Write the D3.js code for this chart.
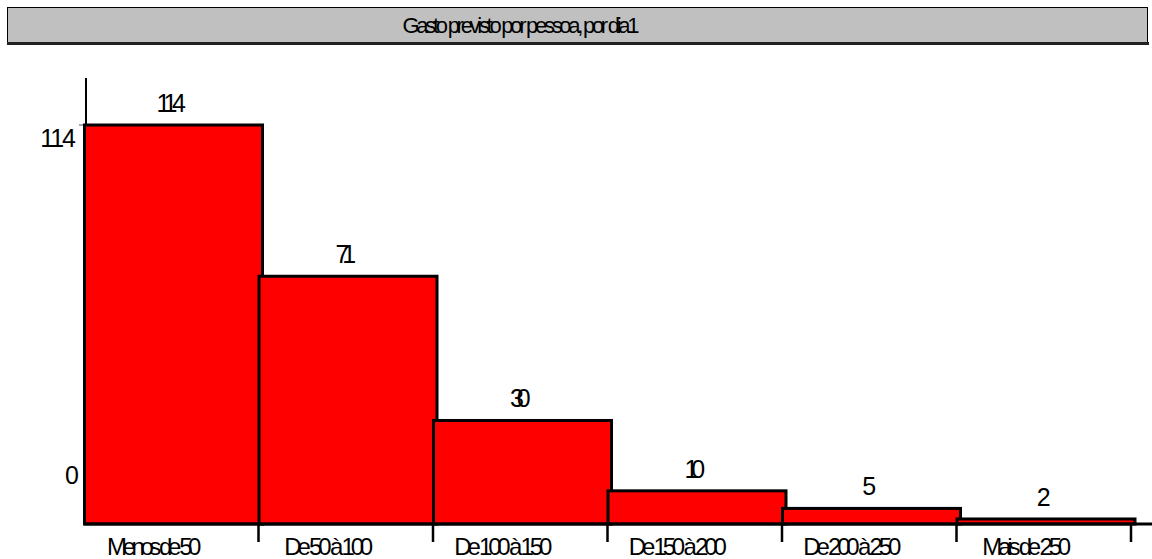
<!DOCTYPE html>
<html>
<head>
<meta charset="utf-8">
<script src="https://cdn.jsdelivr.net/npm/d3@7"></script>
<style>
  html, body { margin: 0; padding: 0; background: #fff; }
  svg { display: block; font-family: "Liberation Sans", Arial, sans-serif; }
</style>
</head>
<body>
<svg id="chart" width="1152" height="559"></svg>
<script>
// Expected spending per person per day, counts by bracket
const titleText = "Gasto previsto por pessoa, por dia1";
const categories = ["Menos de 50", "De 50 à 100", "De 100 à 150", "De 150 à 200", "De 200 à 250", "Mais de 250"];
const counts = [114, 71, 30, 10, 5, 2];
const yTickValues = [0, 114];

const svg = d3.select("#chart");
const W = 1152, H = 559;

const x = d3.scaleBand().domain(categories).range([84, 1131]).padding(0);
const y = d3.scaleLinear().domain([0, 114]).range([526, 125]);
const baseY = 524;
const axisX = 86;

// Tighten a text element's letter spacing to a fraction of its natural width
function squeeze(sel, factor) {
  sel.each(function () {
    const len = this.getComputedTextLength();
    d3.select(this).attr("textLength", len * factor).attr("lengthAdjust", "spacing");
  });
}

// Title band
svg.append("rect").attr("x", 7.5).attr("y", 7.5).attr("width", 1140).attr("height", 35)
  .attr("fill", "#c0c0c0").attr("stroke", "#000").attr("stroke-width", 1);
svg.append("line").attr("x1", 7).attr("x2", 1149).attr("y1", 43.5).attr("y2", 43.5)
  .attr("stroke", "#222").attr("stroke-width", 3);
svg.append("text").attr("x", 521).attr("y", 33).attr("text-anchor", "middle")
  .attr("font-size", 22).attr("fill", "#000").text(titleText)
  .call(squeeze, 0.68);

// Vertical axis line
svg.append("line").attr("x1", axisX).attr("x2", axisX).attr("y1", 78).attr("y2", baseY)
  .attr("stroke", "#000").attr("stroke-width", 2);
svg.append("line").attr("x1", 79).attr("x2", axisX + 1).attr("y1", y(114)).attr("y2", y(114))
  .attr("stroke", "#555").attr("stroke-width", 1);

// Bars (each slightly wider than its band, so neighbours overlap)
svg.append("g").selectAll("rect").data(counts).join("rect")
  .attr("x", (d, i) => x(categories[i]) + 0.5)
  .attr("y", d => y(d))
  .attr("width", x.bandwidth() + 3.5)
  .attr("height", d => baseY - y(d))
  .attr("fill", "#ff0000")
  .attr("stroke", "#000")
  .attr("stroke-width", 3);

// Horizontal axis line and ticks at band ends
svg.append("line").attr("x1", 84).attr("x2", W).attr("y1", baseY).attr("y2", baseY)
  .attr("stroke", "#000").attr("stroke-width", 3);
svg.append("g").selectAll("line").data(categories).join("line")
  .attr("x1", d => x(d) + x.bandwidth()).attr("x2", d => x(d) + x.bandwidth())
  .attr("y1", baseY).attr("y2", 542)
  .attr("stroke", "#000").attr("stroke-width", 2.5);

// Y tick labels
svg.append("g").selectAll("text").data(yTickValues).join("text")
  .attr("x", d => d === 0 ? 79 : 76)
  .attr("y", d => d === 0 ? y(d) - 42 : y(d) + 22)
  .attr("text-anchor", "end")
  .attr("font-size", 25)
  .attr("fill", "#000")
  .text(d => d)
  .call(squeeze, 0.9);

// Value labels above bars
svg.append("g").selectAll("text").data(counts).join("text")
  .attr("x", (d, i) => x(categories[i]) + x.bandwidth() / 2)
  .attr("y", d => y(d) - 13)
  .attr("text-anchor", "middle")
  .attr("font-size", 25)
  .attr("fill", "#000")
  .text(d => d)
  .call(squeeze, 0.74);

// Category labels
svg.append("g").selectAll("text").data(categories).join("text")
  .attr("x", d => x(d) + x.bandwidth() / 2 - 17)
  .attr("y", 555)
  .attr("text-anchor", "middle")
  .attr("font-size", 24)
  .attr("fill", "#000")
  .text(d => d)
  .call(squeeze, 0.68);
</script>
</body>
</html>
